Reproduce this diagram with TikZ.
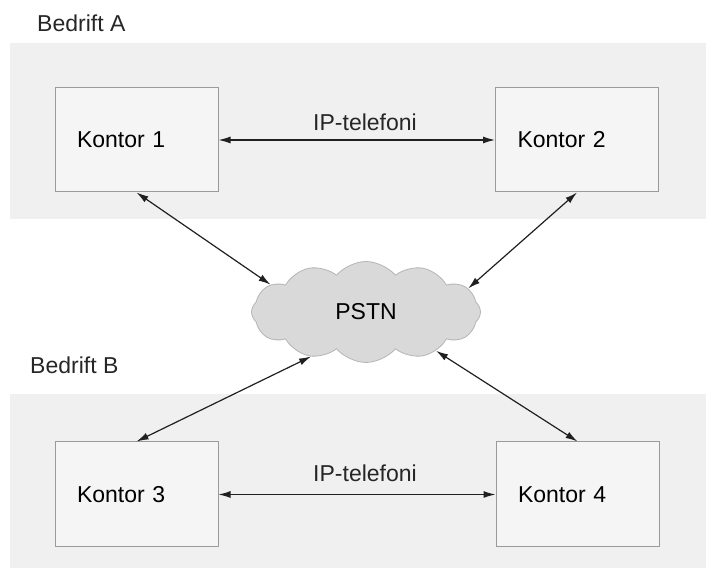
\documentclass[tikz,border=0pt]{standalone}
\usepackage{fontspec}
\setmainfont{Liberation Sans}
\usetikzlibrary{shapes.symbols,arrows.meta}

\definecolor{bandgray}{HTML}{F0F0F0}
\definecolor{boxgray}{HTML}{F5F5F5}
\definecolor{edgegray}{HTML}{9A9A9A}
\definecolor{cloudfill}{HTML}{D9D9D9}
\definecolor{cloudedge}{HTML}{B5B5B5}
\definecolor{linkgray}{HTML}{202020}

\begin{document}
\begin{tikzpicture}[x=1pt, y=1pt,
    font=\fontsize{23}{27}\selectfont,
    kontor/.style={draw=edgegray, line width=1pt, fill=boxgray,
        minimum height=104pt, text width=119pt, inner xsep=22pt, align=left},
    link/.style={{Latex[length=12pt,width=7pt]}-{Latex[length=12pt,width=7pt]},
        draw=linkgray, line width=1.2pt},
    tag/.style={inner sep=0pt, text=black!85}]

    \useasboundingbox (0,0) rectangle (706,569);

    % --- Company bands ---
    \fill[bandgray] (10,350) rectangle (706,526);
    \fill[bandgray] (10,1) rectangle (706,175);
    \node[tag, anchor=west] (bedA) at (37,546) {Bedrift A};
    \node[tag, anchor=west] (bedB) at (30,204) {Bedrift B};

    % --- Offices ---
    \node[kontor] (k1) at (136.5,429) {Kontor 1};
    \node[kontor] (k2) at (577,429) {Kontor 2};
    \node[kontor, minimum height=105pt] (k3) at (136.5,74.5) {Kontor 3};
    \node[kontor, minimum height=105pt] (k4) at (577.5,74.5) {Kontor 4};

    % --- Public network ---
    \node[cloud, cloud puffs=12, cloud puff arc=100, aspect=2.3,
        minimum width=229pt, minimum height=101pt, inner sep=0pt,
        fill=cloudfill, draw=cloudedge, line width=0.8pt] (pstn) at (366,257) {PSTN};

    % --- IP telephony inside each company ---
    \draw[link] (k1) -- (k2);
    \node[tag] (ipA) at (365,447) {IP-telefoni};
    \draw[link] (k3) -- (k4);
    \node[tag] (ipB) at (365,96) {IP-telefoni};

    % --- Links to the PSTN ---
    \draw[link] (k1.south) -- (pstn.164);
    \draw[link] (k2.south) -- (pstn.13);
    \draw[link] (k3.north) -- (pstn.219);
    \draw[link] (k4.north) -- (pstn.331);

\end{tikzpicture}
\end{document}
